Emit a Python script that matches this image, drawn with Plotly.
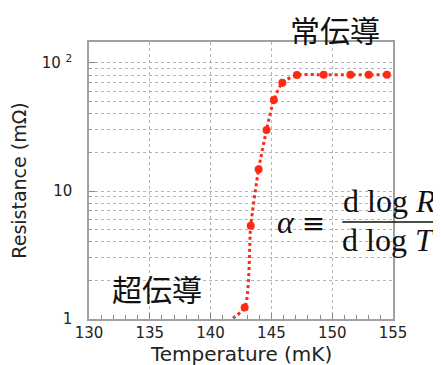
import plotly.graph_objects as go

# Data
temperature_mK = [141.0, 142.8, 143.3, 143.95, 144.6, 145.2, 145.9, 147.1, 149.3, 151.5, 153.0, 154.5]
resistance_mohm = [0.9, 1.23, 5.36, 14.8, 30.0, 51.4, 70.2, 80.6, 80.8, 81.0, 81.0, 81.0]

x_tick_vals = [130, 135, 140, 145, 150, 155]
x_tick_text = ["130", "135", "140", "145", "150", "155"]
y_tick_vals = [1, 10, 100]
y_tick_text = ["1", "10", "10 <sup>2</sup>"]

RED = "#ff2a14"
GRID = "#b4b4b4"
SANS = "DejaVu Sans, Arial, sans-serif"
CJK = "Noto Sans CJK JP"
SERIF = "Liberation Serif, Times New Roman, serif"

fig = go.Figure()
fig.add_trace(go.Scatter(
    x=temperature_mK, y=resistance_mohm, mode="lines+markers",
    line=dict(color=RED, width=3, dash="dot", shape="spline", smoothing=0.6),
    marker=dict(color=RED, size=8),
    showlegend=False,
))

minor_y = [m * d for d in (1, 10, 100) for m in range(2, 10)]

# the page adds an 8px body margin, so the figure is 8px smaller
fig.update_layout(
    width=433, height=357,
    margin=dict(l=81, r=48, t=34, b=46, autoexpand=False),
    paper_bgcolor="white", plot_bgcolor="white",
    font=dict(family=SANS, color="#222"),
    xaxis=dict(
        range=[130, 155], tickvals=x_tick_vals, ticktext=x_tick_text,
        tickfont=dict(size=15, color="#222"),
        ticks="inside", ticklen=6, tickcolor="#888", ticklabelstandoff=-1,
        showline=True, linecolor="#a0a0a0", linewidth=1.5, mirror=True,
        showgrid=True, gridcolor=GRID, griddash="dot", gridwidth=1,
        minor=dict(dtick=1, ticks="inside", ticklen=4, tickcolor="#888", showgrid=False),
        zeroline=False, automargin=False,
    ),
    yaxis=dict(
        type="log", range=[0, 2.164],
        tickvals=y_tick_vals, ticktext=y_tick_text,
        tickfont=dict(size=15, color="#222"),
        ticks="inside", ticklen=6, tickcolor="#888", ticklabelstandoff=12,
        showline=True, linecolor="#a0a0a0", linewidth=1.5, mirror=True,
        showgrid=True, gridcolor=GRID, griddash="dot", gridwidth=1,
        minor=dict(tickvals=minor_y, ticks="inside", ticklen=3, tickcolor="#999",
                   showgrid=True, gridcolor=GRID, griddash="dot", gridwidth=1),
        title=dict(text="Resistance (mΩ)", font=dict(size=19, color="#222"), standoff=10),
        zeroline=False, automargin=False,
    ),
)

# x-axis title placed as an annotation to control its gap to the tick labels
fig.add_annotation(text="Temperature (mK)", xref="paper", yref="paper", x=0.5, y=-0.125,
                   xanchor="center", yanchor="middle", showarrow=False,
                   font=dict(family=SANS, size=20, color="#222"))

# white patch behind formula (above grid, below traces/axes)
fig.add_shape(type="rect", xref="paper", yref="paper",
              x0=0.602, x1=0.997, y0=0.206, y1=0.444,
              fillcolor="white", line=dict(width=0), layer="between")

fig.add_annotation(text="常伝導", xref="paper", yref="paper", x=0.809, y=1.047,
                   xanchor="center", yanchor="middle",
                   showarrow=False, font=dict(family=CJK, size=30, color="#111"))
fig.add_annotation(text="超伝導", xref="paper", yref="paper", x=0.224, y=0.112,
                   xanchor="center", yanchor="middle",
                   showarrow=False, font=dict(family=CJK, size=30, color="#111"))

fig.add_annotation(
    text="<i>α</i> <span style=\"font-family:'DejaVu Serif';font-size:28px\">≡</span>",
    xref="paper", yref="paper", x=0.697, y=0.35,
    xanchor="center", yanchor="middle",
    showarrow=False, font=dict(family=SERIF, size=32, color="#111"))
fig.add_annotation(text="d log <i>R</i>", xref="paper", yref="paper", x=0.987, y=0.426,
                   xanchor="center", yanchor="middle",
                   showarrow=False, font=dict(family=SERIF, size=32, color="#111"))
fig.add_annotation(text="d log <i>T</i>", xref="paper", yref="paper", x=0.986, y=0.285,
                   xanchor="center", yanchor="middle",
                   showarrow=False, font=dict(family=SERIF, size=32, color="#111"))
fig.add_shape(type="line", xref="paper", yref="paper",
              x0=0.833, x1=1.148, y0=0.35, y1=0.35,
              line=dict(color="#111", width=1.6), layer="above")

fig.write_html("out.html")
